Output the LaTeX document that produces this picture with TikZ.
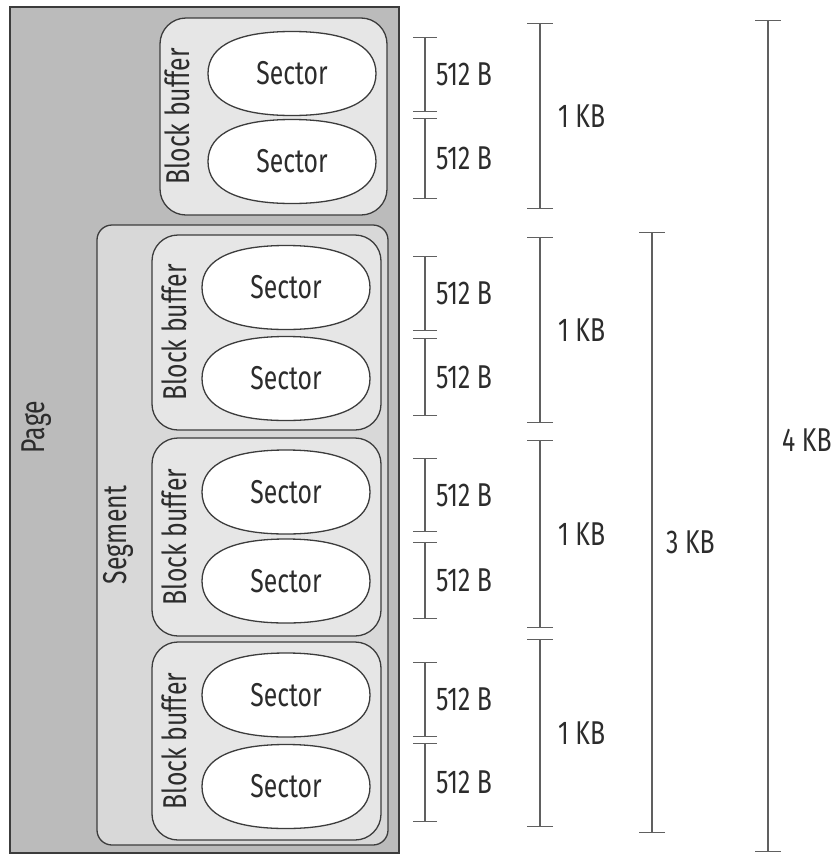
\documentclass[tikz,border=0pt]{standalone}
\usepackage{fontspec}
\setmainfont{Fira Sans}[FakeStretch=0.75]
\usetikzlibrary{arrows.meta}
\definecolor{pagegray}{HTML}{BBBBBB}
\definecolor{seggray}{HTML}{D8D8D8}
\definecolor{bbgray}{HTML}{E6E6E6}
\definecolor{edge}{HTML}{3C3C3C}
\definecolor{ink}{HTML}{2C2C2C}
\definecolor{barcol}{HTML}{606060}
\tikzset{
  pagebox/.style={draw=edge, line width=1.3pt, fill=pagegray, rectangle, inner sep=0pt},
  segbox/.style={draw=edge, line width=1.3pt, fill=seggray, rectangle, rounded corners=15pt, inner sep=0pt},
  bbbox/.style={draw=edge, line width=1.3pt, fill=bbgray, rectangle, rounded corners=26pt, inner sep=0pt, minimum width=229pt},
  secline/.style={draw=edge, line width=1.3pt, fill=white},
  sector/.style={rectangle, inner sep=0pt, minimum width=170pt, minimum height=86pt, text=ink, font=\fontsize{33}{35}\selectfont,
    path picture={
      \path[secline]
        ([xshift=-84pt]path picture bounding box.center)
        .. controls ([xshift=-84pt,yshift=30pt]path picture bounding box.center)
               and ([xshift=-50pt,yshift=42pt]path picture bounding box.center)
        .. ([yshift=42pt]path picture bounding box.center)
        .. controls ([xshift=50pt,yshift=42pt]path picture bounding box.center)
               and ([xshift=84pt,yshift=30pt]path picture bounding box.center)
        .. ([xshift=84pt]path picture bounding box.center)
        .. controls ([xshift=84pt,yshift=-30pt]path picture bounding box.center)
               and ([xshift=50pt,yshift=-42pt]path picture bounding box.center)
        .. ([yshift=-42pt]path picture bounding box.center)
        .. controls ([xshift=-50pt,yshift=-42pt]path picture bounding box.center)
               and ([xshift=-84pt,yshift=-30pt]path picture bounding box.center)
        .. cycle;
    }},
  vlabel/.style={rotate=90, text=ink, font=\fontsize{33}{35}\selectfont, inner sep=0pt},
  meas/.style={draw=barcol, line width=1.4pt, {Bar[width=24pt]}-{Bar[width=24pt]}},
  longmeas/.style={draw=barcol, line width=1.4pt, {Bar[width=26pt]}-{Bar[width=26pt]}},
  measlbl/.style={text=ink, font=\fontsize{33}{35}\selectfont, inner sep=0pt}
}
\begin{document}
\begin{tikzpicture}[x=1pt,y=-1pt]
\useasboundingbox (0,0) rectangle (831,857);
% page
\node[pagebox, minimum width=389pt, minimum height=846pt] (page) at (204.5,430) {};
\node[vlabel] (pagelbl) at (37,427) {Page};
% top block buffer
\node[bbbox, minimum width=227pt, minimum height=197pt] (bb0) at (273.5,116.5) {};
\node[vlabel] (bb0l) at (177,116.5) {Block buffer};
\node[sector] (s01) at (292,73.5) {Sector};
\node[sector] (s02) at (292,161.5) {Sector};
% segment
\node[segbox, minimum width=291pt, minimum height=620pt] (seg) at (242.5,535) {};
\node[vlabel] (seglbl) at (118,535) {Segment};
% block buffers in segment
\node[bbbox, minimum height=195pt] (bb1) at (266.5,332.5) {};
\node[vlabel] (bb1l) at (174,332.5) {Block buffer};
\node[sector] (s11) at (286,287.5) {Sector};
\node[sector] (s12) at (286,378.5) {Sector};
\node[bbbox, minimum height=198pt] (bb2) at (266.5,537) {};
\node[vlabel] (bb2l) at (174,537) {Block buffer};
\node[sector] (s21) at (286,492) {Sector};
\node[sector] (s22) at (286,581) {Sector};
\node[bbbox, minimum height=198pt] (bb3) at (266.5,741) {};
\node[vlabel] (bb3l) at (174,741) {Block buffer};
\node[sector] (s31) at (286,695) {Sector};
\node[sector] (s32) at (286,786.5) {Sector};
% 512 B bars
\foreach \i/\a/\b in {1/37/112, 2/118/199, 3/256/331, 4/338/416, 5/458/532, 6/542/619, 7/662/737, 8/743/822}{
  \coordinate (h\i t) at (425,\a);
  \coordinate (h\i b) at (425,\b);
  \draw[meas] (h\i t) -- (h\i b);
  \node[measlbl, anchor=west] (h\i l) at (436,{(\a+\b)/2}) {512 B};
}
% 1 KB bars
\foreach \i/\a/\b in {1/23/209, 2/237/423, 3/440/628, 4/639/827}{
  \coordinate (k\i t) at (540,\a);
  \coordinate (k\i b) at (540,\b);
  \draw[longmeas] (k\i t) -- (k\i b);
  \node[measlbl, anchor=west] (k\i l) at (558,{(\a+\b)/2}) {1 KB};
}
% 3 KB
\coordinate (t3t) at (652,232);
\coordinate (t3b) at (652,833);
\draw[longmeas] (t3t) -- (t3b);
\node[measlbl, anchor=west] (t3l) at (666,542) {3 KB};
% 4 KB
\coordinate (f4t) at (768,20);
\coordinate (f4b) at (768,852);
\draw[longmeas] (f4t) -- (f4b);
\node[measlbl, anchor=west] (f4l) at (782,440) {4 KB};
\end{tikzpicture}
\end{document}
